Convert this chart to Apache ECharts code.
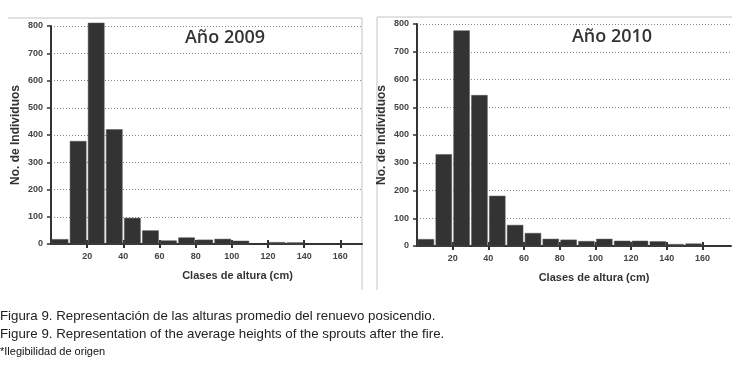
<!DOCTYPE html>
<html>
<head>
<meta charset="utf-8">
<script src="https://cdn.jsdelivr.net/npm/echarts@6/dist/echarts.min.js"></script>
<style>
  html, body { margin: 0; padding: 0; background: #fff; }
  #chart { width: 740px; height: 374px; }
</style>
</head>
<body>
<div id="chart"></div>
<script>
// clases de altura (inicio de cada clase, cm) - ancho 10 cm
var binStart = [0, 10, 20, 30, 40, 50, 60, 70, 80, 90, 100, 110, 120, 130, 140, 150, 160];
var counts2009 = [17, 377, 811, 420, 95, 49, 12, 23, 15, 18, 11, 0, 6, 5, 0, 0, 0];
var counts2010 = [24, 330, 776, 543, 180, 75, 46, 25, 22, 17, 25, 18, 18, 16, 6, 8, 0];
var xTicks = [20, 40, 60, 80, 100, 120, 140, 160];
var yTicks = [0, 100, 200, 300, 400, 500, 600, 700, 800];

function toBins(counts) {
    var out = [];
    for (var i = 0; i < binStart.length; i++) {
        out.push([binStart[i], binStart[i] + 10, counts[i]]);
    }
    return out;
}

var dom = echarts.init(document.getElementById('chart'));

// histogram bars drawn through the axes, 1px gap each side
function renderBar(params, api) {
    if (!api.value(2)) return null;
    var topLeft = api.coord([api.value(0), api.value(2)]);
    var bottomRight = api.coord([api.value(1), 0]);
    return {
        type: 'rect',
        shape: {
            x: topLeft[0] + 1,
            y: topLeft[1],
            width: bottomRight[0] - topLeft[0] - 2,
            height: bottomRight[1] - topLeft[1]
        },
        style: { fill: '#333333', stroke: '#555', lineWidth: 0.5 }
    };
}

var tickFont = { color: '#444', fontSize: 9, fontWeight: 'bold', fontFamily: 'Liberation Sans' };

function xAxisMain(grid, max, padLeft) {
    return {
        type: 'value', gridIndex: grid, min: 0, max: max,
        name: 'Clases de altura (cm)',
        nameLocation: 'middle', nameGap: 26,
        nameTextStyle: {
            color: '#333', fontSize: 11, fontWeight: 'bold',
            fontFamily: 'Liberation Sans', padding: [0, 0, 0, padLeft]
        },
        axisLine: { lineStyle: { color: '#333', width: 2 } },
        axisTick: { customValues: xTicks, length: 4, lineStyle: { color: '#333', width: 2 } },
        axisLabel: Object.assign({ customValues: xTicks, margin: 8 }, tickFont),
        splitLine: { show: false }
    };
}

// second axis only for the inner half of the crossing ticks
function xAxisInner(grid, max) {
    return {
        type: 'value', gridIndex: grid, min: 0, max: max, position: 'bottom',
        axisLine: { show: false },
        axisTick: { customValues: xTicks, inside: true, length: 4, lineStyle: { color: '#333', width: 2 } },
        axisLabel: { show: false },
        splitLine: { show: false }
    };
}

function yAxisMain(grid) {
    return {
        type: 'value', gridIndex: grid, min: 0, max: 800, interval: 100,
        name: 'No. de Individuos',
        nameLocation: 'middle', nameGap: 29,
        nameTextStyle: { color: '#333', fontSize: 12, fontWeight: 'bold', fontFamily: 'Liberation Sans' },
        axisLine: { show: true, lineStyle: { color: '#333', width: 2 } },
        axisTick: { show: true, length: 4, lineStyle: { color: '#333', width: 1.5 } },
        axisLabel: Object.assign({ margin: 8 }, tickFont),
        splitLine: { show: true, lineStyle: { color: '#888', width: 1, type: [1, 2] } }
    };
}

var captionFont = '13.3px "Liberation Sans", sans-serif';

var option = {
    backgroundColor: '#fff',
    animation: false,
    title: [
        {
            text: 'Año 2009', left: 220, top: 24, textAlign: 'center',
            textStyle: { color: '#333', fontSize: 18, fontWeight: 600, fontFamily: 'Open Sans' }
        },
        {
            text: 'Año 2010', left: 607, top: 23, textAlign: 'center',
            textStyle: { color: '#333', fontSize: 18, fontWeight: 600, fontFamily: 'Open Sans' }
        }
    ],
    grid: [
        { left: 51, top: 26, width: 311, height: 218 },
        { left: 417, top: 24, width: 314, height: 222 }
    ],
    xAxis: [
        xAxisMain(0, 172, 62),
        xAxisMain(1, 176, 40),
        xAxisInner(0, 172),
        xAxisInner(1, 176)
    ],
    yAxis: [yAxisMain(0), yAxisMain(1)],
    series: [
        {
            type: 'custom', name: '2009', xAxisIndex: 0, yAxisIndex: 0,
            renderItem: renderBar, encode: { x: [0, 1], y: 2 },
            data: toBins(counts2009)
        },
        {
            type: 'custom', name: '2010', xAxisIndex: 1, yAxisIndex: 1,
            renderItem: renderBar, encode: { x: [0, 1], y: 2 },
            data: toBins(counts2010)
        }
    ],
    graphic: [
        // marcos de las figuras
        { type: 'polyline', shape: { points: [[8, 18], [362, 18], [362, 290]] },
          style: { stroke: '#c4c4c4', lineWidth: 1, fill: null } },
        { type: 'polyline', shape: { points: [[377, 290], [377, 17], [732, 17]] },
          style: { stroke: '#c4c4c4', lineWidth: 1, fill: null } },
        { type: 'text', left: 0, top: 310,
          style: { text: 'Figura 9. Representación de las alturas promedio del renuevo posicendio.', font: captionFont, fill: '#222' } },
        { type: 'text', left: 0, top: 328,
          style: { text: 'Figure 9. Representation of the average heights of the sprouts after the fire.', font: captionFont, fill: '#222' } },
        { type: 'text', left: 0, top: 346,
          style: { text: '*Ilegibilidad de origen', font: '11px "Liberation Sans", sans-serif', fill: '#111' } }
    ]
};

dom.setOption(option);
</script>
</body>
</html>
